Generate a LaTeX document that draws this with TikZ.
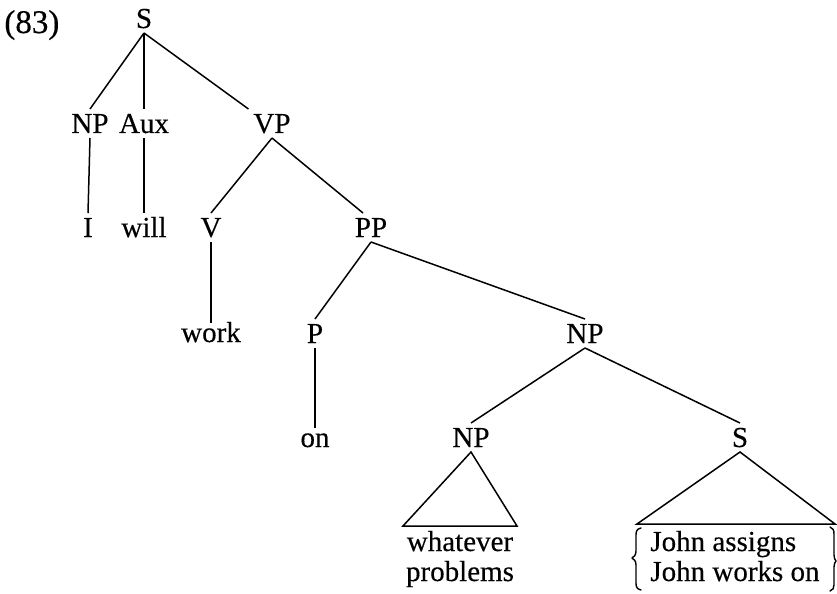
\documentclass[tikz,border=0pt]{standalone}
\usepackage{fontspec}
\setmainfont{Liberation Serif}[FakeBold=0.35]
\begin{document}
\begin{tikzpicture}[x=0.5pt,y=-0.5pt,
  every node/.style={font=\fontsize{14.5}{15}\selectfont},
  cat/.style={anchor=base,inner sep=0pt,text height=9.5pt,text depth=0pt,outer sep=2.5pt},
  leaf/.style={cat,text height=7pt},
  branch/.style={line width=0.75pt},
  brace/.style={line width=0.7pt,line cap=round,line join=round}]
\useasboundingbox (0,0) rectangle (837,594);

% example number
\node[anchor=base west,inner sep=0pt,font=\fontsize{16.5}{16.5}\selectfont] (ex) at (4,33) {(83)};

% categories
\node[cat] (s)   at (144,28)  {S};
\node[cat] (np1) at (90,133)  {NP};
\node[cat] (aux) at (144,133) {Aux};
\node[cat] (vp)  at (272,133) {VP};
\node[cat] (i)   at (88,237)  {I};
\node[cat] (will) at (144,237) {will};
\node[cat] (v)   at (211,237) {V};
\node[cat] (pp)  at (371,237) {PP};
\node[leaf] (work) at (211,342) {work};
\node[cat] (p)   at (315,343) {P};
\node[cat] (np2) at (585,343) {NP};
\node[leaf] (on) at (315,447) {on};
\node[cat] (np3) at (471,447) {NP};
\node[cat] (s2)  at (740,447) {S};

% branches
\draw[branch] (s.south) -- (np1.north);
\draw[branch] (s.south) -- (aux.north);
\draw[branch] (s.south) -- (vp.north west);
\draw[branch] (np1.south) -- (i.north);
\draw[branch] (aux.south) -- (will.north);
\draw[branch] (vp.south) -- (v.north);
\draw[branch] (vp.south) -- ([xshift=-4pt]pp.north);
\draw[branch] (v.south) -- (work.north);
\draw[branch] (pp.south) -- (p.north);
\draw[branch] (pp.south) -- (np2.north);
\draw[branch] (p.south) -- (on.north);
\draw[branch] (np2.south) -- (np3.north);
\draw[branch] (np2.south) -- (s2.north);

% unanalysed constituents
\coordinate (t1l) at (403,526);
\coordinate (t1r) at (517,526);
\draw[branch,line join=miter] (np3.south) -- (t1l) -- (t1r) -- cycle;
\coordinate (t2l) at (637,524);
\coordinate (t2r) at (835,524);
\draw[branch,line join=miter] (s2.south) -- (t2l) -- (t2r) -- cycle;

% terminal strings
\node[anchor=base,inner sep=0pt] (w1) at (460,551) {whatever};
\node[anchor=base,inner sep=0pt] (w2) at (460,581) {problems};
\node[anchor=base west,inner sep=0pt] (j1) at (650,551) {John assigns};
\node[anchor=base west,inner sep=0pt] (j2) at (650,581) {John works on};

% braces round the alternatives
\draw[brace] (641,528) .. controls (637,529) and (636,531) .. (636,535)
  -- (636,551) .. controls (636,555) and (634,557) .. (632,558)
  .. controls (634,559) and (636,561) .. (636,565)
  -- (636,583) .. controls (636,587) and (637,589) .. (641,590);
\draw[brace] (830,527) .. controls (833,528) and (834,530) .. (834,534)
  -- (834,555) .. controls (834,558) and (835,560) .. (836,561)
  .. controls (835,562) and (834,564) .. (834,567)
  -- (834,585) .. controls (834,588) and (833,590) .. (830,591);
\end{tikzpicture}
\end{document}
